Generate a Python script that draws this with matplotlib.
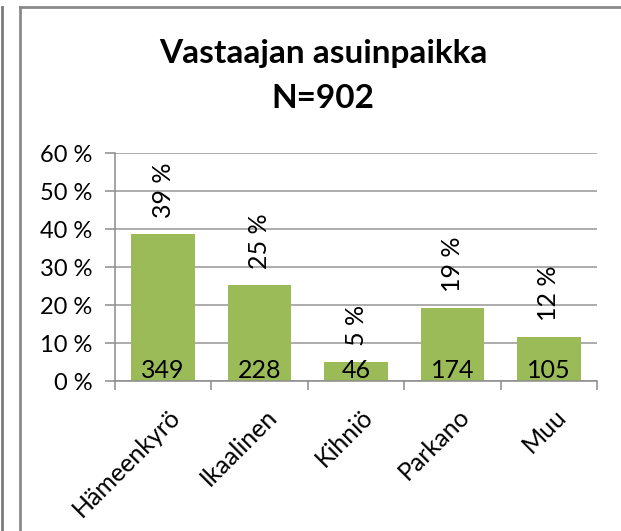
import numpy as np
import matplotlib
matplotlib.use("Agg")
import matplotlib.pyplot as plt
from matplotlib.lines import Line2D
from matplotlib.transforms import ScaledTranslation

# data
places = ["Hämeenkyrö", "Ikaalinen", "Kihniö", "Parkano", "Muu"]
counts = [349, 228, 46, 174, 105]
shares = [0.387, 0.253, 0.051, 0.193, 0.116]
share_labels = ["39 %", "25 %", "5 %", "19 %", "12 %"]
y_ticks = [0.0, 0.1, 0.2, 0.3, 0.4, 0.5, 0.6]
y_tick_labels = ["0 %", "10 %", "20 %", "30 %", "40 %", "50 %", "60 %"]
title_lines = ["Vastaajan asuinpaikka", "N=902"]

W, H = 621, 531
DPI = 100
plt.rcParams["font.family"] = ["Lato", "DejaVu Sans"]

fig = plt.figure(figsize=(W / DPI, H / DPI), dpi=DPI)
fig.patch.set_facecolor("white")

# frame lines of the screenshot
frame_col = "#8a8a8a"
fig.add_artist(Line2D([1.5 / W, 1.5 / W], [0, 1 - 7 / H], color="#7a7a7a", lw=2.0))
fig.add_artist(Line2D([20 / W, 20 / W], [0, 1 - 7 / H], color=frame_col, lw=2.0))
fig.add_artist(Line2D([20 / W, 1], [1 - 7 / H, 1 - 7 / H], color=frame_col, lw=2.0))

# axes in pixel placement
left, right, top, bottom = 115, 597, 153, 381
ax = fig.add_axes([left / W, 1 - bottom / H, (right - left) / W, (bottom - top) / H])

grey = "#8c8c8c"
x = np.arange(len(places))
ax.bar(x, shares, width=0.66, color="#9BBB59", zorder=3)

ax.set_xlim(-0.5, len(places) - 0.5)
ax.set_ylim(0, 0.6)
ax.set_yticks(y_ticks)
ax.set_yticklabels(y_tick_labels, fontsize=17)
ax.yaxis.grid(True, color="#969696", lw=1.1, zorder=0)
ax.tick_params(axis="y", length=7.2, width=1.1, color=grey, pad=9)

ax.set_xticks(x)
ax.set_xticklabels(places, rotation=45, ha="right", va="top", rotation_mode="anchor", fontsize=18)
ax.set_xticks(np.arange(len(places) + 1) - 0.5, minor=True)
ax.tick_params(axis="x", which="major", length=0, pad=17)
ax.tick_params(axis="x", which="minor", length=6.5, width=1.1, color=grey)
for lbl in ax.get_xticklabels():
    lbl.set_transform(lbl.get_transform() + ScaledTranslation(5 / DPI, 0, fig.dpi_scale_trans))

for s in ["top", "right"]:
    ax.spines[s].set_visible(False)
for s in ["left", "bottom"]:
    ax.spines[s].set_color(grey)
    ax.spines[s].set_linewidth(1.1)
    ax.spines[s].set_zorder(4)

# labels on bars
up = lambda dy: ScaledTranslation(0, dy / DPI, fig.dpi_scale_trans)
for xi, sh, lab, cnt in zip(x, shares, share_labels, counts):
    ax.text(xi, sh, lab, rotation=90, ha="center", va="bottom", fontsize=18,
            transform=ax.transData + up(16), zorder=5)
    ax.text(xi, 0, str(cnt), ha="center", va="baseline", fontsize=18,
            transform=ax.transData + up(3), zorder=5)

# title
fig.text(323 / W, 1 - 63 / H, title_lines[0], ha="center", va="baseline",
         fontsize=24, fontweight="bold")
fig.text(323 / W, 1 - 108 / H, title_lines[1], ha="center", va="baseline",
         fontsize=24, fontweight="bold")

fig.savefig("out.png", dpi=DPI, facecolor="white")
